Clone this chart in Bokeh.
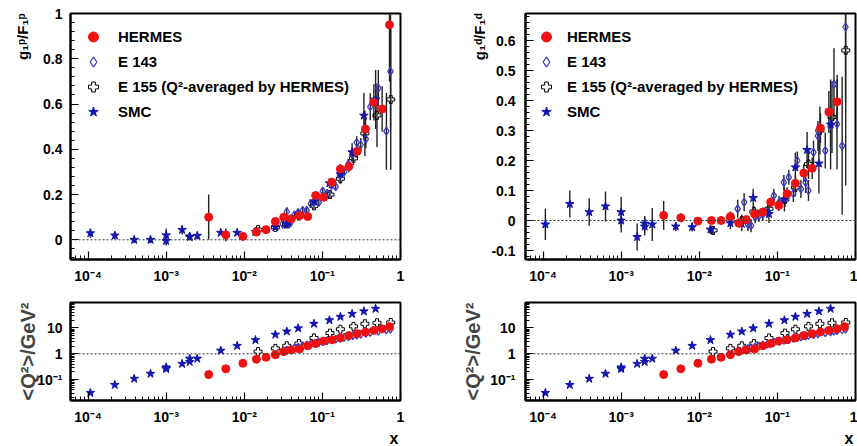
import numpy as np
from bokeh.plotting import figure
from bokeh.models import (ColumnDataSource, Span, Legend, LegendItem, Title,
                          FixedTicker, Range1d, CustomJSTickFormatter)
from bokeh.layouts import column, row
from bokeh.embed import file_html
from bokeh.resources import INLINE

# ---------------- data ----------------
HERMES_X = [0.0035, 0.0058, 0.0096, 0.0143, 0.019, 0.025, 0.032, 0.040, 0.051, 0.065,
            0.082, 0.104, 0.133, 0.170, 0.218, 0.279, 0.356, 0.456, 0.582, 0.723]
HERMES_P = [0.100, 0.022, 0.015, 0.034, 0.045, 0.081, 0.100, 0.093, 0.107, 0.103,
            0.196, 0.188, 0.254, 0.313, 0.324, 0.391, 0.490, 0.607, 0.578, 0.950]
HERMES_P_ERR = [0.100, 0.028, 0.015, 0.014, 0.014, 0.014, 0.014, 0.014, 0.015, 0.016,
                0.017, 0.018, 0.020, 0.022, 0.025, 0.030, 0.060, 0.080, 0.100, 0.250]
HERMES_D = [0.017, 0.009, -0.002, 0.000, 0.000, 0.013, -0.009, 0.003, 0.022, 0.028,
            0.061, 0.050, 0.089, 0.124, 0.158, 0.174, 0.308, 0.362, 0.396, float("nan")]
HERMES_D_ERR = [0.048, 0.015, 0.010, 0.010, 0.010, 0.011, 0.013, 0.013, 0.014, 0.015,
                0.016, 0.018, 0.022, 0.026, 0.030, 0.036, 0.050, 0.070, 0.090, float("nan")]
HERMES_Q2 = [0.158, 0.263, 0.43, 0.62, 0.73, 0.92, 1.22, 1.41, 1.53, 2.04,
             2.48, 3.1, 3.5, 4.1, 5.1, 6.0, 6.9, 8.0, 9.2, 11.2]

SMC_X = [1.07e-4, 2.2e-4, 3.9e-4, 6.3e-4, 1.0e-3, 1.0e-3, 1.6e-3, 2.0e-3, 2.0e-3, 2.5e-3,
         5.0e-3, 8.1e-3, 0.0139, 0.025, 0.035, 0.049, 0.078, 0.123, 0.17, 0.24, 0.34, 0.48]
SMC_P = [0.029, 0.019, 0.000, 0.000, 0.020, -0.005, 0.044, 0.015, 0.012, 0.018,
         0.031, 0.031, 0.035, 0.056, 0.067, 0.110, 0.170, 0.250, 0.290, 0.387, 0.549, 0.620]
SMC_P_ERR = [0.020, 0.015, 0.015, 0.015, 0.030, 0.020, 0.020, 0.015, 0.015, 0.015,
             0.008, 0.008, 0.010, 0.012, 0.014, 0.015, 0.020, 0.022, 0.028, 0.040, 0.100, 0.130]
SMC_D = [-0.013, 0.055, 0.028, 0.047, 0.028, 0.000, -0.055, -0.010, -0.020, -0.013,
         -0.020, -0.022, -0.030, -0.009, -0.011, 0.075, 0.022, 0.070, 0.177, 0.235, 0.190, 0.320]
SMC_D_ERR = [0.052, 0.045, 0.045, 0.050, 0.050, 0.040, 0.045, 0.025, 0.030, 0.055,
             0.015, 0.015, 0.015, 0.020, 0.025, 0.030, 0.030, 0.040, 0.050, 0.060, 0.100, 0.150]
SMC_Q2 = [0.031, 0.063, 0.109, 0.17, 0.30, 0.26, 0.41, 0.65, 0.49, 0.65,
          1.33, 2.04, 3.4, 5.5, 7.3, 9.7, 14.5, 19.8, 27.0, 35.0, 44.0, 55.0]

E143P_X = [0.031, 0.035, 0.039, 0.044, 0.049, 0.056, 0.063, 0.071, 0.080, 0.090, 0.101, 0.115,
           0.131, 0.148, 0.168, 0.190, 0.215, 0.245, 0.275, 0.310, 0.360, 0.410, 0.520, 0.660, 0.745]
E143P_G = [0.070, 0.124, 0.075, 0.110, 0.120, 0.130, 0.130, 0.160, 0.170, 0.165, 0.215, 0.205,
           0.240, 0.235, 0.285, 0.300, 0.335, 0.380, 0.430, 0.420, 0.445, 0.588, 0.670, 0.480, 0.744]
E143P_ERR = [0.020, 0.020, 0.018, 0.015, 0.015, 0.015, 0.015, 0.015, 0.015, 0.015, 0.015, 0.015,
             0.016, 0.018, 0.020, 0.020, 0.022, 0.025, 0.028, 0.030, 0.040, 0.060, 0.080, 0.170, 0.250]
E143P_Q2 = [1.25, 1.40, 1.50, 1.65, 1.80, 2.00, 2.15, 2.35, 2.55, 2.75, 2.95, 3.20,
            3.45, 3.70, 4.00, 4.30, 4.60, 5.00, 5.30, 5.70, 6.20, 6.70, 7.50, 8.40, 9.00]

E143D_X = [0.031, 0.0375, 0.042, 0.046, 0.052, 0.058, 0.065, 0.075, 0.090, 0.105, 0.121, 0.140,
           0.160, 0.180, 0.200, 0.230, 0.250, 0.290, 0.330, 0.410, 0.480, 0.530, 0.580, 0.675, 0.745]
E143D_G = [0.039, 0.061, -0.013, -0.017, 0.011, 0.015, 0.020, 0.030, 0.083, 0.060, 0.127, 0.144,
           0.090, 0.200, 0.105, 0.127, 0.100, 0.227, 0.282, 0.233, 0.316, 0.454, 0.321, 0.249, 0.645]
E143D_ERR = [0.030, 0.030, 0.022, 0.022, 0.020, 0.020, 0.020, 0.020, 0.022, 0.022, 0.025, 0.025,
             0.028, 0.030, 0.030, 0.035, 0.035, 0.040, 0.050, 0.060, 0.070, 0.120, 0.150, 0.230, 0.250]
E143D_Q2 = [1.25, 1.45, 1.60, 1.70, 1.85, 2.00, 2.15, 2.40, 2.75, 3.00, 3.30, 3.60,
            3.90, 4.20, 4.50, 4.90, 5.10, 5.50, 5.90, 6.60, 7.10, 7.50, 7.80, 8.50, 9.00]

E155_X = [0.015, 0.025, 0.035, 0.050, 0.078, 0.125, 0.170, 0.250, 0.350, 0.500, 0.750]
E155_P = [0.045, 0.055, 0.070, 0.105, 0.150, 0.200, 0.270, 0.360, 0.470, 0.550, 0.620]
E155_P_ERR = [0.010, 0.012, 0.012, 0.013, 0.015, 0.018, 0.022, 0.030, 0.100, 0.140, 0.310]
E155_D = [-0.033, 0.010, 0.000, 0.030, 0.039, 0.070, 0.110, 0.188, 0.300, 0.345, 0.567]
E155_D_ERR = [0.015, 0.020, 0.020, 0.020, 0.022, 0.025, 0.030, 0.050, 0.080, 0.120, 0.450]
E155_Q2 = [1.22, 1.62, 2.04, 2.50, 4.10, 6.30, 8.90, 11.5, 14.5, 15.8, 16.2]

LEGEND_LABELS = ["HERMES", "E 143", "E 155 (Q\u00b2-averaged by HERMES)", "SMC"]
Y_TITLE_P = "g\u2081\u1d56/F\u2081\u1d56"
Y_TITLE_D = "g\u2081\u1d48/F\u2081\u1d48"
Y_TITLE_Q2 = "<Q\u00b2>/GeV\u00b2"
X_TITLE = "x"
X_MAJOR = [1e-4, 1e-3, 1e-2, 1e-1, 1.0]
YP_MAJOR = [0.0, 0.2, 0.4, 0.6, 0.8, 1.0]
YD_MAJOR = [-0.1, 0.0, 0.1, 0.2, 0.3, 0.4, 0.5, 0.6]
Q2_MAJOR = [0.1, 1.0, 10.0]

# ---------------- styling ----------------
FONT = "Liberation Sans"
RED = "#ee1111"
BLUE_STAR = "#1414b0"
BLUE_DIA = "#3a3ac8"
BAR = "#222222"
X_RANGE = (10 ** -4.225, 1.0)
X_MINOR = [k * 10.0 ** e for e in range(-5, 0) for k in range(2, 10)]
Q2_MINOR = [k * 10.0 ** e for e in range(-2, 2) for k in range(2, 10)]

LOG_CODE = """
const sup = {"-": "\u207b", "0": "\u2070", "1": "\u00b9", "2": "\u00b2", "3": "\u00b3", "4": "\u2074"};
const e = Math.round(Math.log10(tick));
if (e == 0) return "1";
if (e == 1) return "10";
return "10" + String(e).split("").map(c => sup[c]).join("");
"""
LIN_CODE = "return String(parseFloat(tick.toFixed(2)));"


def base_fig(w, h, bl, br, bt, bb, y_type, y_range, y_major, y_minor, y_code, y_standoff, x_standoff):
    p = figure(width=w, height=h, x_axis_type="log", y_axis_type=y_type,
               x_range=Range1d(*X_RANGE), y_range=Range1d(*y_range),
               output_backend="svg", toolbar_location=None,
               min_border_left=bl, min_border_right=br, min_border_top=bt, min_border_bottom=bb)
    p.grid.visible = False
    p.outline_line_color = "black"
    p.outline_line_width = 2
    p.background_fill_color = "white"
    p.border_fill_color = "white"
    p.xaxis.ticker = FixedTicker(ticks=X_MAJOR, minor_ticks=X_MINOR)
    p.yaxis.ticker = FixedTicker(ticks=y_major, minor_ticks=y_minor)
    p.xaxis.formatter = CustomJSTickFormatter(code=LOG_CODE)
    p.yaxis.formatter = CustomJSTickFormatter(code=y_code)
    for ax in (p.xaxis[0], p.yaxis[0]):
        ax.major_tick_in = 8
        ax.major_tick_out = 0
        ax.minor_tick_in = 4
        ax.minor_tick_out = 0
        ax.axis_line_width = 2
        ax.axis_line_color = "black"
        ax.major_tick_line_width = 1.2
        ax.minor_tick_line_width = 1
        ax.major_tick_line_color = "black"
        ax.minor_tick_line_color = "black"
        ax.major_label_text_font = FONT
        ax.major_label_text_font_style = "bold"
        ax.major_label_text_font_size = "14px"
        ax.major_label_text_color = "black"
    p.xaxis.major_label_standoff = x_standoff
    p.yaxis.major_label_standoff = y_standoff
    return p


def bars(p, x, y, e):
    x = np.asarray(x, float)
    y = np.asarray(y, float)
    e = np.asarray(e, float)
    src = ColumnDataSource(dict(x=x, lo=y - e, hi=y + e))
    p.segment(x0="x", y0="lo", x1="x", y1="hi", source=src, line_color=BAR, line_width=1.4)


def markers(p, x, y):
    rs = {}
    rs["e155"] = p.scatter(x[2], y[2], marker="plus", size=8, fill_color=None,
                           line_color="black", line_width=1)
    rs["e143"] = p.scatter(x[1], y[1], marker="diamond", size=8, fill_color=None,
                           line_color=BLUE_DIA, line_width=1.3)
    rs["smc"] = p.scatter(x[3], y[3], marker="star", size=9, fill_color=BLUE_STAR,
                          line_color=BLUE_STAR)
    rs["hermes"] = p.scatter(x[0], y[0], marker="circle", size=8, fill_color=RED,
                             line_color=RED)
    return rs


def top_panel(w, bl, br, y_range, y_major, y_minor, ys, errs, e143x, ytitle, title_standoff,
              leg_x, leg_standoff, y_standoff):
    p = base_fig(w, 290, bl, br, 13, 31, "linear", y_range, y_major, y_minor, LIN_CODE,
                 y_standoff, 8)
    p.add_layout(Span(location=0, dimension="width", line_color="#333333",
                      line_dash="2 2", line_width=1))
    xs = [HERMES_X, e143x, E155_X, SMC_X]
    for x, y, e in zip(xs, ys, errs):
        bars(p, x, y, e)
    rs = markers(p, xs, ys)
    legend = Legend(items=[LegendItem(label=LEGEND_LABELS[0], renderers=[rs["hermes"]]),
                           LegendItem(label=LEGEND_LABELS[1], renderers=[rs["e143"]]),
                           LegendItem(label=LEGEND_LABELS[2], renderers=[rs["e155"]]),
                           LegendItem(label=LEGEND_LABELS[3], renderers=[rs["smc"]])],
                    location=(leg_x, 135), glyph_width=30, glyph_height=25, spacing=0,
                    padding=5, margin=0, label_standoff=leg_standoff, label_height=25,
                    border_line_color=None, background_fill_alpha=0,
                    label_text_font=FONT, label_text_font_style="bold",
                    label_text_font_size="15px", label_text_color="black")
    p.add_layout(legend)
    p.add_layout(Title(text=ytitle, align="right", standoff=title_standoff, offset=0,
                       text_font=FONT, text_font_style="bold", text_font_size="15px",
                       text_color="black"), "left")
    return p


def bottom_panel(w, bl, br, e143x, e143q, label_standoff, y_standoff):
    y_minor = [v for v in Q2_MINOR if 0.0157 < v < 96]
    p = base_fig(w, 156, bl, br, 12, 42, "log", (0.0157, 96), Q2_MAJOR, y_minor, LOG_CODE,
                 y_standoff, 8)
    p.add_layout(Span(location=1, dimension="width", line_color="#333333",
                      line_dash="2 2", line_width=1))
    xs = [HERMES_X, e143x, E155_X, SMC_X]
    ys = [HERMES_Q2, e143q, E155_Q2, SMC_Q2]
    markers(p, xs, ys)
    p.yaxis.axis_label = Y_TITLE_Q2
    p.yaxis.axis_label_text_font = FONT
    p.yaxis.axis_label_text_font_style = "bold"
    p.yaxis.axis_label_text_font_size = "20px"
    p.yaxis.axis_label_standoff = label_standoff
    p.add_layout(Title(text=X_TITLE, align="right", standoff=0, offset=2,
                       text_font=FONT, text_font_style="bold", text_font_size="16px",
                       text_color="black"), "below")
    return p


yp_minor = [round(v, 3) for v in np.arange(-0.08, 1.0001, 0.04)]
yd_minor = [round(v, 3) for v in np.arange(-0.12, 0.6901, 0.02)]

p1 = top_panel(425, 70, 25, (-0.087, 1.0), YP_MAJOR, yp_minor,
               [HERMES_P, E143P_G, E155_P, SMC_P],
               [HERMES_P_ERR, E143P_ERR, E155_P_ERR, SMC_P_ERR],
               E143P_X, Y_TITLE_P, 20, 8, 10, 8)
p2 = top_panel(432, 100, 2, (-0.13, 0.69), YD_MAJOR, yd_minor,
               [HERMES_D, E143D_G, E155_D, SMC_D],
               [HERMES_D_ERR, E143D_ERR, E155_D_ERR, SMC_D_ERR],
               E143D_X, Y_TITLE_D, 2, 6, 6, 10)
p3 = bottom_panel(425, 70, 25, E143P_X, E143P_Q2, -5, 8)
p4 = bottom_panel(432, 100, 2, E143D_X, E143D_Q2, 3, 10)

layout = column(row(p1, p2), row(p3, p4))
open("out.html", "w").write(file_html(layout, INLINE))
